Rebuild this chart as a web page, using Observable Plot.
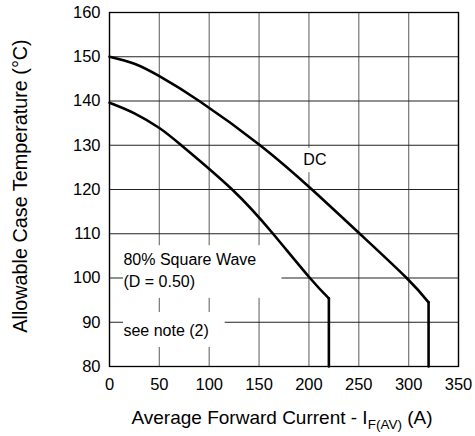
<!DOCTYPE html>
<html><head><meta charset="utf-8">
<script src="https://cdn.jsdelivr.net/npm/d3@7"></script>
<script src="https://cdn.jsdelivr.net/npm/@observablehq/plot@0.6"></script>
<style>body{margin:0;background:#fff}</style>
</head><body><div id="chart"></div>
<script>
// DC curve (smooth part) and its vertical drop
const dcCurrent = [0, 25, 50, 90, 151, 203, 251, 298, 320];
const dcTemp = [150, 148.4, 145.6, 140, 130, 120, 110, 100, 94.5];
const dcDropCurrent = [320, 320];
const dcDropTemp = [94.5, 80];
// 80% square wave curve and its vertical drop
const sqCurrent = [0, 25, 50, 72, 123, 164, 201, 220];
const sqTemp = [139.6, 137.2, 133.9, 130, 120, 110, 100, 95.4];
const sqDropCurrent = [220, 220];
const sqDropTemp = [95.4, 80];

const xTicks = [0, 50, 100, 150, 200, 250, 300, 350];
const yTicks = [80, 90, 100, 110, 120, 130, 140, 150, 160];

const labelTexts = ["DC", "80% Square Wave", "(D = 0.50)", "see note (2)"];
const labelX = [206, 14, 14, 14];
const labelY = [126.6, 104.1, 99.2, 88];
const labelAnchor = ["middle", "start", "start", "start"];

// white boxes behind annotations (data units)
const boxX1 = [193, 14, 14];
const boxX2 = [223, 173, 116];
const boxY1 = [123.8, 95.4, 84.3];
const boxY2 = [129.3, 107.3, 92.2];

const xLabelMain = "Average Forward Current - I";
const xLabelSub = "F(AV)";
const xLabelEnd = " (A)";
const yLabel = "Allowable Case Temperature (°C)";

const toRows = (xs, ys, name) => xs.map((x, i) => ({current: x, temp: ys[i], series: name}));
const curves = [...toRows(dcCurrent, dcTemp, "DC"), ...toRows(sqCurrent, sqTemp, "SQ")];
const drops = [...toRows(dcDropCurrent, dcDropTemp, "DC"), ...toRows(sqDropCurrent, sqDropTemp, "SQ")];
const labels = labelTexts.map((t, i) => ({text: t, x: labelX[i], y: labelY[i], anchor: labelAnchor[i]}));
const boxes = boxX1.map((x1, i) => ({x1, x2: boxX2[i], y1: boxY1[i], y2: boxY2[i]}));

const chart = Plot.plot({
  width: 475, height: 436,
  marginLeft: 109, marginRight: 17, marginTop: 12, marginBottom: 70,
  style: {fontFamily: "'Liberation Sans', Arial, sans-serif", fontSize: "16.5px", color: "#000", background: "#fff"},
  x: {domain: [0, 350], label: null},
  y: {domain: [80, 160], label: null},
  marks: [
    Plot.gridX(xTicks, {stroke: "#808080", strokeOpacity: 1, strokeWidth: 1.3}),
    Plot.gridY(yTicks, {stroke: "#222", strokeOpacity: 1, strokeWidth: 1.1}),
    Plot.rect(boxes, {x1: "x1", x2: "x2", y1: "y1", y2: "y2", fill: "white"}),
    Plot.frame({stroke: "#000", strokeWidth: 1.3}),
    Plot.axisX(xTicks, {tickSize: 0, tickPadding: 12, fontSize: 16.5, label: null}),
    Plot.axisY(yTicks, {tickSize: 0, tickPadding: 9, fontSize: 16.5, label: null}),
    Plot.line(curves, {x: "current", y: "temp", z: "series", curve: "natural", stroke: "#000", strokeWidth: 2.6}),
    Plot.line(drops, {x: "current", y: "temp", z: "series", stroke: "#000", strokeWidth: 2.6}),
    Plot.text(labels.filter(d => d.anchor === "middle"), {x: "x", y: "y", text: "text", textAnchor: "middle", fontSize: 16, fill: "#000"}),
    Plot.text(labels.filter(d => d.anchor === "start"), {x: "x", y: "y", text: "text", textAnchor: "start", fontSize: 16, fill: "#000"})
  ]
});

const svg = d3.select(chart);
const xl = svg.append("text")
  .attr("x", 282).attr("y", 424)
  .attr("text-anchor", "middle")
  .attr("fill", "#000")
  .style("font-size", "19px");
xl.append("tspan").text(xLabelMain);
xl.append("tspan").attr("dy", 5).style("font-size", "13.5px").text(xLabelSub);
xl.append("tspan").attr("dy", -5).text(xLabelEnd);

svg.append("text")
  .attr("transform", "translate(27,186) rotate(-90)")
  .attr("text-anchor", "middle")
  .attr("fill", "#000")
  .style("font-size", "19.8px")
  .text(yLabel);

document.getElementById("chart").appendChild(chart);
</script>
</body></html>
